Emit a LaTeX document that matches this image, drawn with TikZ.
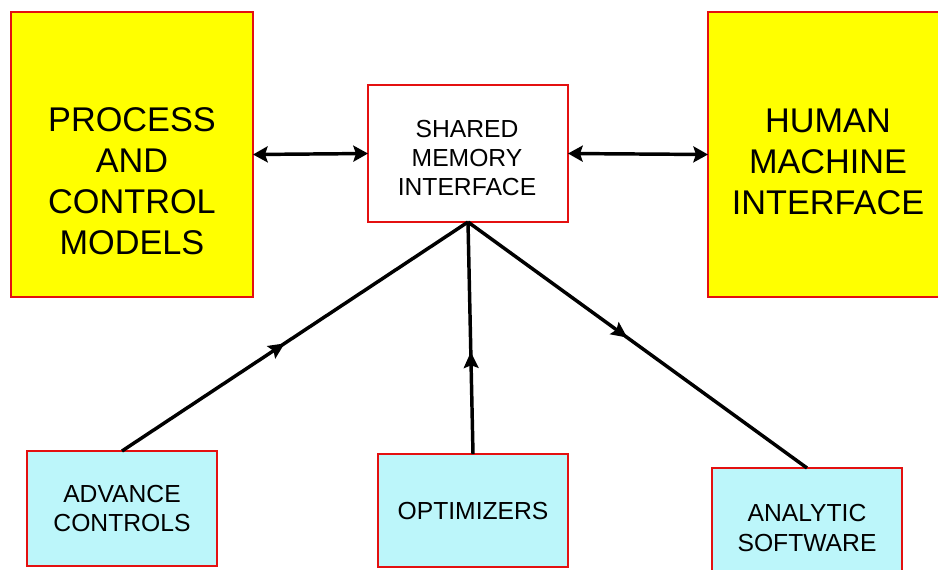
\documentclass[tikz,border=0pt]{standalone}
\usepackage{fontspec}
\setmainfont{Liberation Sans}
\usetikzlibrary{arrows.meta,decorations.markings}
\definecolor{boxred}{RGB}{228,16,16}
\definecolor{boxyellow}{RGB}{255,255,0}
\definecolor{boxcyan}{RGB}{188,246,250}
\tikzset{
  bigbox/.style={draw=boxred, line width=2pt, fill=boxyellow, inner sep=0pt, outer sep=0pt},
  smallbox/.style={draw=boxred, line width=2pt, inner sep=0pt, outer sep=0pt, align=center,
    font=\fontsize{18.5}{22}\selectfont},
  bigtext/.style={align=center, font=\fontsize{25.7}{30.75}\selectfont},
  link/.style={line width=2.6pt},
  dblarrow/.style={link, {Stealth[length=11pt,width=12pt,inset=2pt]}-{Stealth[length=11pt,width=12pt,inset=2pt]}},
  midarrow/.style={postaction={decorate}, decoration={markings,
    mark=at position #1 with {\arrow{Stealth[length=12pt,width=11pt,inset=2pt]}}}}
}
\begin{document}
\begin{tikzpicture}[x=0.75pt, y=-0.75pt]
  \useasboundingbox (0,0) rectangle (938,569);
  \clip (0,0) rectangle (938,569);

  % the two large blocks
  \node[bigbox, minimum width=181.5pt, minimum height=213.75pt] (pcm) at (132,154.5) {};
  \node[bigtext] (pcmtext) at (132,181) {PROCESS\\AND\\CONTROL\\MODELS};
  \node[bigbox, minimum width=180pt, minimum height=213.75pt] (hmi) at (828,154.5) {};
  \node[bigtext] (hmitext) at (828,161.5) {HUMAN\\MACHINE\\INTERFACE};

  \node[smallbox, fill=white, minimum width=150pt, minimum height=102.75pt] (sme) at (468,153.5) {};
  \node[align=center, font=\fontsize{18.5}{22}\selectfont] (smetext) at (467,158) {SHARED\\MEMORY\\INTERFACE};

  % lower row
  \node[smallbox, fill=boxcyan, minimum width=142.5pt, minimum height=86.25pt] (adv) at (122,508.5) {ADVANCE\\CONTROLS};
  \node[smallbox, fill=boxcyan, minimum width=142.5pt, minimum height=84.75pt] (opt) at (473,510.5) {OPTIMIZERS};
  \node[smallbox, fill=boxcyan, minimum width=142.5pt, minimum height=90pt] (ana) at (807,528) {ANALYTIC\\SOFTWARE};

  \draw[dblarrow] (pcm.east) -- (sme.west);
  \draw[dblarrow] (sme.east) -- (hmi.west);

  \draw[link, midarrow=0.47] (adv.north) -- (sme.south);
  \draw[link, midarrow=0.44] (opt.north) -- (sme.south);
  \draw[link, midarrow=0.47] (sme.south) -- (ana.north);
\end{tikzpicture}
\end{document}
